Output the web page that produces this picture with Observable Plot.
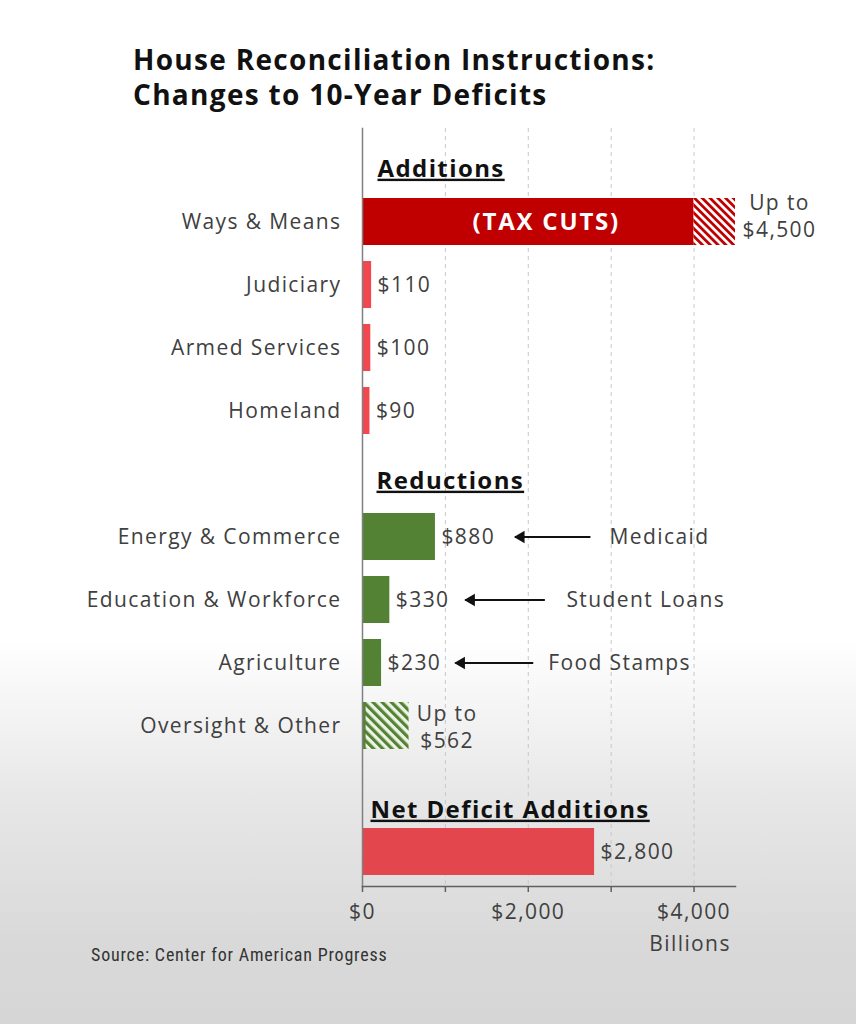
<!DOCTYPE html>
<html>
<head>
<meta charset="utf-8">
<script src="https://cdn.jsdelivr.net/npm/d3@7"></script>
<script src="https://cdn.jsdelivr.net/npm/@observablehq/plot@0.6"></script>
<style>
  html, body { margin: 0; padding: 0; }
  body {
    width: 856px; height: 1024px; position: relative; overflow: hidden;
    background: linear-gradient(to bottom, #ffffff 0px, #ffffff 640px, #e8e8e8 790px, #d9d9d9 940px, #d6d6d6 1024px);
    font-family: "Open Sans", sans-serif;
  }
  #title {
    position: absolute; left: 133px; top: 42px;
    font-family: "Open Sans", sans-serif; font-weight: 700; font-size: 28px;
    letter-spacing: 1.3px; line-height: 35px; color: #111;
  }
  #chart { position: absolute; left: 0; top: 120px; }
  #chart svg text { letter-spacing: 1.4px; }
  #source {
    position: absolute; left: 91px; top: 944px;
    font-family: "Liberation Sans Narrow", "Roboto Condensed", "Roboto", sans-serif;
    font-size: 18px; letter-spacing: 0.8px; color: #333;
  }
</style>
</head>
<body>
<div id="title">House Reconciliation Instructions:<br>Changes to 10-Year Deficits</div>
<div id="chart"></div>
<div id="source">Source: Center for American Progress</div>
<script>
// ---- data (billions of dollars) ----
const addCats = ["Ways & Means", "Judiciary", "Armed Services", "Homeland"];
const addValues = [4000, 110, 100, 90];          // Ways & Means: firm part
const waysMeansMax = 4500;                         // "Up to $4,500"
const redCats = ["Energy & Commerce", "Education & Workforce", "Agriculture", "Oversight & Other"];
const redValues = [880, 330, 230, 562];            // Oversight & Other: "Up to $562"
const netCat = "Net Deficit";
const netValue = 2800;
const headers = ["Additions", "Reductions", "Net Deficit Additions"];
const annotCats = ["Energy & Commerce", "Education & Workforce", "Agriculture"];
const annotLabels = ["Medicaid", "Student Loans", "Food Stamps"];
const arrowFrom = [2750, 2200, 2060];
const arrowTo = [1840, 1240, 1120];
const annotX = [2980, 2460, 2240];
const xTicks = [0, 1000, 2000, 3000, 4000];
const xTickLabels = ["$0", "", "$2,000", "", "$4,000"];

// ---- derived tables ----
const rowOrder = [...addCats, "gap1", ...redCats, "gap2", netCat];
const fmt = v => "$" + d3.format(",")(v);
const addRows = addCats.map((c, i) => ({cat: c, value: addValues[i]}));
const redRows = redCats.map((c, i) => ({cat: c, value: redValues[i]}));
const labelRows = [...addCats, ...redCats].map(c => ({cat: c}));
const valueLabels = [
  ...addRows.slice(1).map(d => ({cat: d.cat, x: d.value, text: fmt(d.value)})),
  ...redRows.slice(0, 3).map(d => ({cat: d.cat, x: d.value, text: fmt(d.value)})),
  {cat: netCat, x: netValue, text: fmt(netValue)}
];
const upToLabels = [
  {cat: addCats[0], x: waysMeansMax, text: "Up to\n" + fmt(waysMeansMax)},
  {cat: redCats[3], x: redValues[3], text: "Up to\n" + fmt(redValues[3])}
];
const annots = annotCats.map((c, i) => ({cat: c, from: arrowFrom[i], to: arrowTo[i], tx: annotX[i], text: annotLabels[i]}));
const headerRows = [
  {cat: addCats[0], text: headers[0]},
  {cat: redCats[0], text: headers[1]},
  {cat: netCat, text: headers[2]}
];
const headerLayout = [{dy: -53, dx: 15}, {dy: -56, dx: 14}, {dy: -42, dx: 8}];

const txtColor = "#404040";
const font = "Open Sans";
const fs = 21;

const svg = Plot.plot({
  width: 856,
  height: 850,
  marginLeft: 362,
  marginRight: 121,
  marginTop: 8,
  marginBottom: 84,
  insetTop: 60.35,
  insetBottom: 1.35,
  style: {fontFamily: font, fontSize: fs + "px", background: "transparent", color: txtColor, overflow: "visible"},
  x: {domain: [0, waysMeansMax], axis: null},
  y: {domain: rowOrder, paddingInner: 0.25, paddingOuter: 0.125, axis: null},
  marks: [
    Plot.gridX(xTicks.slice(1), {stroke: "#c8c8c8", strokeOpacity: 1, strokeDasharray: "4,4"}),
    // bars
    Plot.barX(addRows.slice(0, 1), {x1: 0, x2: "value", y: "cat", fill: "#c00000"}),
    Plot.barX(addRows.slice(0, 1), {x1: "value", x2: () => waysMeansMax, y: "cat", fill: "url(#hatchRed)"}),
    Plot.barX(addRows.slice(1), {x1: 0, x2: "value", y: "cat", fill: "#f2474f"}),
    Plot.barX(redRows.slice(0, 3), {x1: 0, x2: "value", y: "cat", fill: "#548235"}),
    Plot.barX(redRows.slice(3), {x1: 0, x2: "value", y: "cat", fill: "url(#hatchGreen)"}),
    Plot.barX(redRows.slice(3), {x1: 0, x2: "value", y: "cat", fill: "#548235", insetRight: 43}),
    Plot.barX([{cat: netCat, value: netValue}], {x1: 0, x2: "value", y: "cat", fill: "#e3474d"}),
    // axes lines
    Plot.frame({anchor: "left", stroke: "#808080", strokeWidth: 1.5}),
    Plot.frame({anchor: "bottom", stroke: "#606060", strokeWidth: 1.5}),
    Plot.axisX({ticks: xTicks, tickFormat: (d, i) => xTickLabels[i], tickSize: 6, tickPadding: 12,
      fontSize: fs, stroke: "#606060", strokeWidth: 1.5, fill: "#404040", label: null}),
    Plot.text(["Billions"], {x: () => 4000, frameAnchor: "bottom", dy: 64, dx: -4, text: d => d,
      fontSize: fs, fill: "#404040"}),
    // category labels
    Plot.text(labelRows, {y: "cat", text: "cat", frameAnchor: "left", textAnchor: "end", dx: -21,
      fontSize: fs, fill: txtColor}),
    // headers
    ...headerRows.map((h, i) => Plot.text([h], {y: "cat", text: "text", frameAnchor: "left", textAnchor: "start",
      dx: headerLayout[i].dx, dy: headerLayout[i].dy, fontSize: 24, fontWeight: 700, fill: "#111"})),
    // TAX CUTS label
    Plot.text(addRows.slice(0, 1), {x: d => d.value / 2, y: "cat", text: () => "(TAX CUTS)", dx: 18,
      fill: "white", fontWeight: 700, fontSize: 24}),
    // value labels
    Plot.text(valueLabels, {x: "x", y: "cat", text: "text", textAnchor: "start", dx: 6, fontSize: fs, fill: txtColor}),
    Plot.text(upToLabels.slice(0, 1), {x: "x", y: "cat", text: "text", textAnchor: "middle", dx: 44, dy: -7, lineHeight: 1.25, fontSize: fs, fill: txtColor}),
    Plot.text(upToLabels.slice(1), {x: "x", y: "cat", text: "text", textAnchor: "middle", dx: 38, lineHeight: 1.3, fontSize: fs, fill: txtColor}),
    // annotations
    Plot.link(annots, {x1: "from", x2: "to", y1: "cat", y2: "cat", stroke: "#111", strokeWidth: 2.2}),
    Plot.dot(annots, {x: "to", y: "cat", symbol: "triangle", rotate: -90, r: 4.6, dx: 6, fill: "#111", stroke: "none"}),
    Plot.text(annots, {x: "tx", y: "cat", text: "text", textAnchor: "start", fontSize: fs, fill: txtColor})
  ]
});

// underline the section headers
d3.select(svg).selectAll("text").filter(function() { return headers.includes(this.textContent); })
  .style("text-decoration", "underline").style("letter-spacing", "1.4px");
d3.select(svg).selectAll("text").filter(function() { return this.textContent === "(TAX CUTS)"; })
  .style("letter-spacing", "1.8px");

// hatch patterns
const defs = d3.select(svg).insert("defs", ":first-child");
const red = defs.append("pattern").attr("id", "hatchRed").attr("patternUnits", "userSpaceOnUse")
  .attr("width", 5.5).attr("height", 5.5).attr("patternTransform", "rotate(-45)");
red.append("rect").attr("width", 5.5).attr("height", 5.5).attr("fill", "#ffffff");
red.append("rect").attr("width", 2.8).attr("height", 5.5).attr("fill", "#c00000");
const green = defs.append("pattern").attr("id", "hatchGreen").attr("patternUnits", "userSpaceOnUse")
  .attr("width", 6.5).attr("height", 6.5).attr("patternTransform", "rotate(-45)");
green.append("rect").attr("width", 6.5).attr("height", 6.5).attr("fill", "#edf4e6");
green.append("rect").attr("width", 3.2).attr("height", 6.5).attr("fill", "#548235");

document.getElementById("chart").appendChild(svg);
</script>
</body>
</html>
